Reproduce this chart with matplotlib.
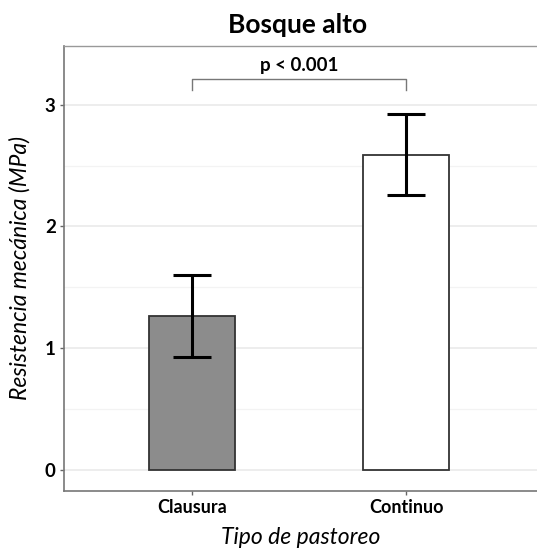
import matplotlib
matplotlib.use("Agg")
import matplotlib.pyplot as plt
import numpy as np

# Data
categories = ["Clausura", "Continuo"]
means = [1.265, 2.59]
errors = [0.335, 0.335]
fills = ["#8c8c8c", "#ffffff"]
p_label = "p < 0.001"
bracket_y = 3.21
bracket_drop = 0.09
yticks = [0, 1, 2, 3]

plt.rcParams["font.family"] = ["Lato", "DejaVu Sans"]

fig = plt.figure(figsize=(5.37, 5.5), dpi=100)
ax = fig.add_axes([64 / 537, 59.4 / 550, 1 - 64 / 537, 444.6 / 550])

x = np.arange(1, len(categories) + 1)
ax.bar(x, means, width=0.4, color=fills, edgecolor="#333333", linewidth=1.3, zorder=3)
ax.errorbar(x, means, yerr=errors, fmt="none", ecolor="black", elinewidth=2.2,
            capsize=14, capthick=2.2, zorder=4)

# significance bracket
ax.plot([x[0], x[0], x[1], x[1]],
        [bracket_y - bracket_drop, bracket_y, bracket_y, bracket_y - bracket_drop],
        color="#777777", lw=1.0, zorder=4)
ax.text((x[0] + x[1]) / 2, bracket_y + 0.04, p_label, ha="center", va="bottom",
        fontsize=13.5, fontweight="bold")

ax.set_xlim(0.402, 2.612)
ax.set_ylim(-0.166, 3.48)
ax.set_xticks(x)
ax.set_xticklabels(categories, fontsize=13, fontweight="bold")
ax.set_yticks(yticks)
ax.set_yticklabels([str(t) for t in yticks], fontsize=13.5, fontweight="bold")
ax.set_yticks([0.5, 1.5, 2.5], minor=True)
ax.tick_params(axis="y", which="minor", length=0)
ax.tick_params(axis="both", which="major", length=3, color="#666666", width=1, pad=3)

ax.grid(axis="y", which="major", color="#e8e8e8", lw=1.1, zorder=0)
ax.grid(axis="y", which="minor", color="#f3f3f3", lw=0.9, zorder=0)
ax.set_axisbelow(True)

for s in ["left", "bottom"]:
    ax.spines[s].set_color("#777777")
    ax.spines[s].set_linewidth(1.2)
ax.spines["top"].set_color("#999999")
ax.spines["top"].set_linewidth(1.0)
ax.spines["right"].set_visible(False)

ax.set_xlabel("Tipo de pastoreo", fontsize=16.5, fontstyle="italic", labelpad=8)
ax.set_ylabel("Resistencia mecánica (MPa)", fontsize=16.5, fontstyle="italic", labelpad=10)
fig.text(298 / 537, 1 - 25 / 550, "Bosque alto", ha="center", va="center",
         fontsize=19, fontweight="bold")

fig.savefig("out.png", dpi=100)
